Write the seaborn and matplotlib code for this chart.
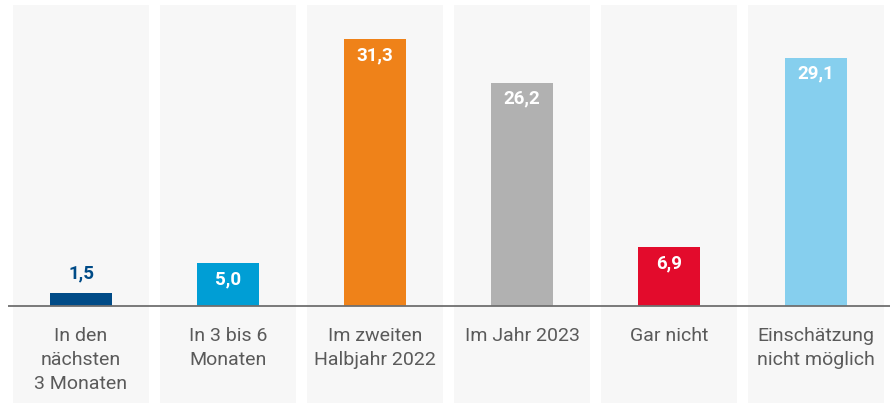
import pandas as pd
import numpy as np
import matplotlib
matplotlib.use('Agg')
import matplotlib.pyplot as plt
import seaborn as sns

# Data
categories = ['In den\nnächsten\n3 Monaten', 'In 3 bis 6\nMonaten', 'Im zweiten\nHalbjahr 2022',
              'Im Jahr 2023', 'Gar nicht', 'Einschätzung\nnicht möglich']
values = [1.5, 5.0, 31.3, 26.2, 6.9, 29.1]
colors = ['#004b87', '#009ed5', '#ef8219', '#b1b1b1', '#e30b2c', '#86cfee']

df = pd.DataFrame({'category': categories, 'value': values})

sns.set_theme(style='white')
plt.rcParams['font.family'] = ['Roboto', 'DejaVu Sans']

fig = plt.figure(figsize=(8.93, 4.03), dpi=100)
ax = fig.add_axes([7.5 / 893, 0, 882 / 893, 398 / 403])

# light grey column panels
for i in range(len(categories)):
    ax.axvspan(i - 0.465, i + 0.465, color='#f7f7f7', zorder=0, lw=0)

sns.barplot(data=df, x='category', y='value', hue='category', palette=colors,
            width=0.42, legend=False, ax=ax, saturation=1, zorder=2, linewidth=0)

ax.axhline(0, color='#6f6f6f', lw=1.3, zorder=3)

# value labels
for i, (v, c) in enumerate(zip(values, colors)):
    label = f'{v:.1f}'.replace('.', ',')
    if v >= 5:
        ax.annotate(label, xy=(i, v), xytext=(0, -5), textcoords='offset points',
                    ha='center', va='top', color='white', fontsize=13.5, fontweight='bold', zorder=4)
    else:
        ax.annotate(label, xy=(i, v), xytext=(0, 8), textcoords='offset points',
                    ha='center', va='bottom', color=c, fontsize=13.5, fontweight='bold', zorder=4)

# category labels below baseline
for i, cat in enumerate(categories):
    ax.annotate(cat, xy=(i, 0), xytext=(0, -15), textcoords='offset points',
                ha='center', va='top', color='#5a5a5a', fontsize=14, linespacing=1.45)

ax.set_xlim(-0.5, len(categories) - 0.5)
ax.set_ylim(-11.4, 35.3)
ax.set_xlabel('')
ax.set_ylabel('')
ax.set_xticks([])
ax.set_yticks([])
for s in ax.spines.values():
    s.set_visible(False)

fig.savefig('out.png', dpi=100)
